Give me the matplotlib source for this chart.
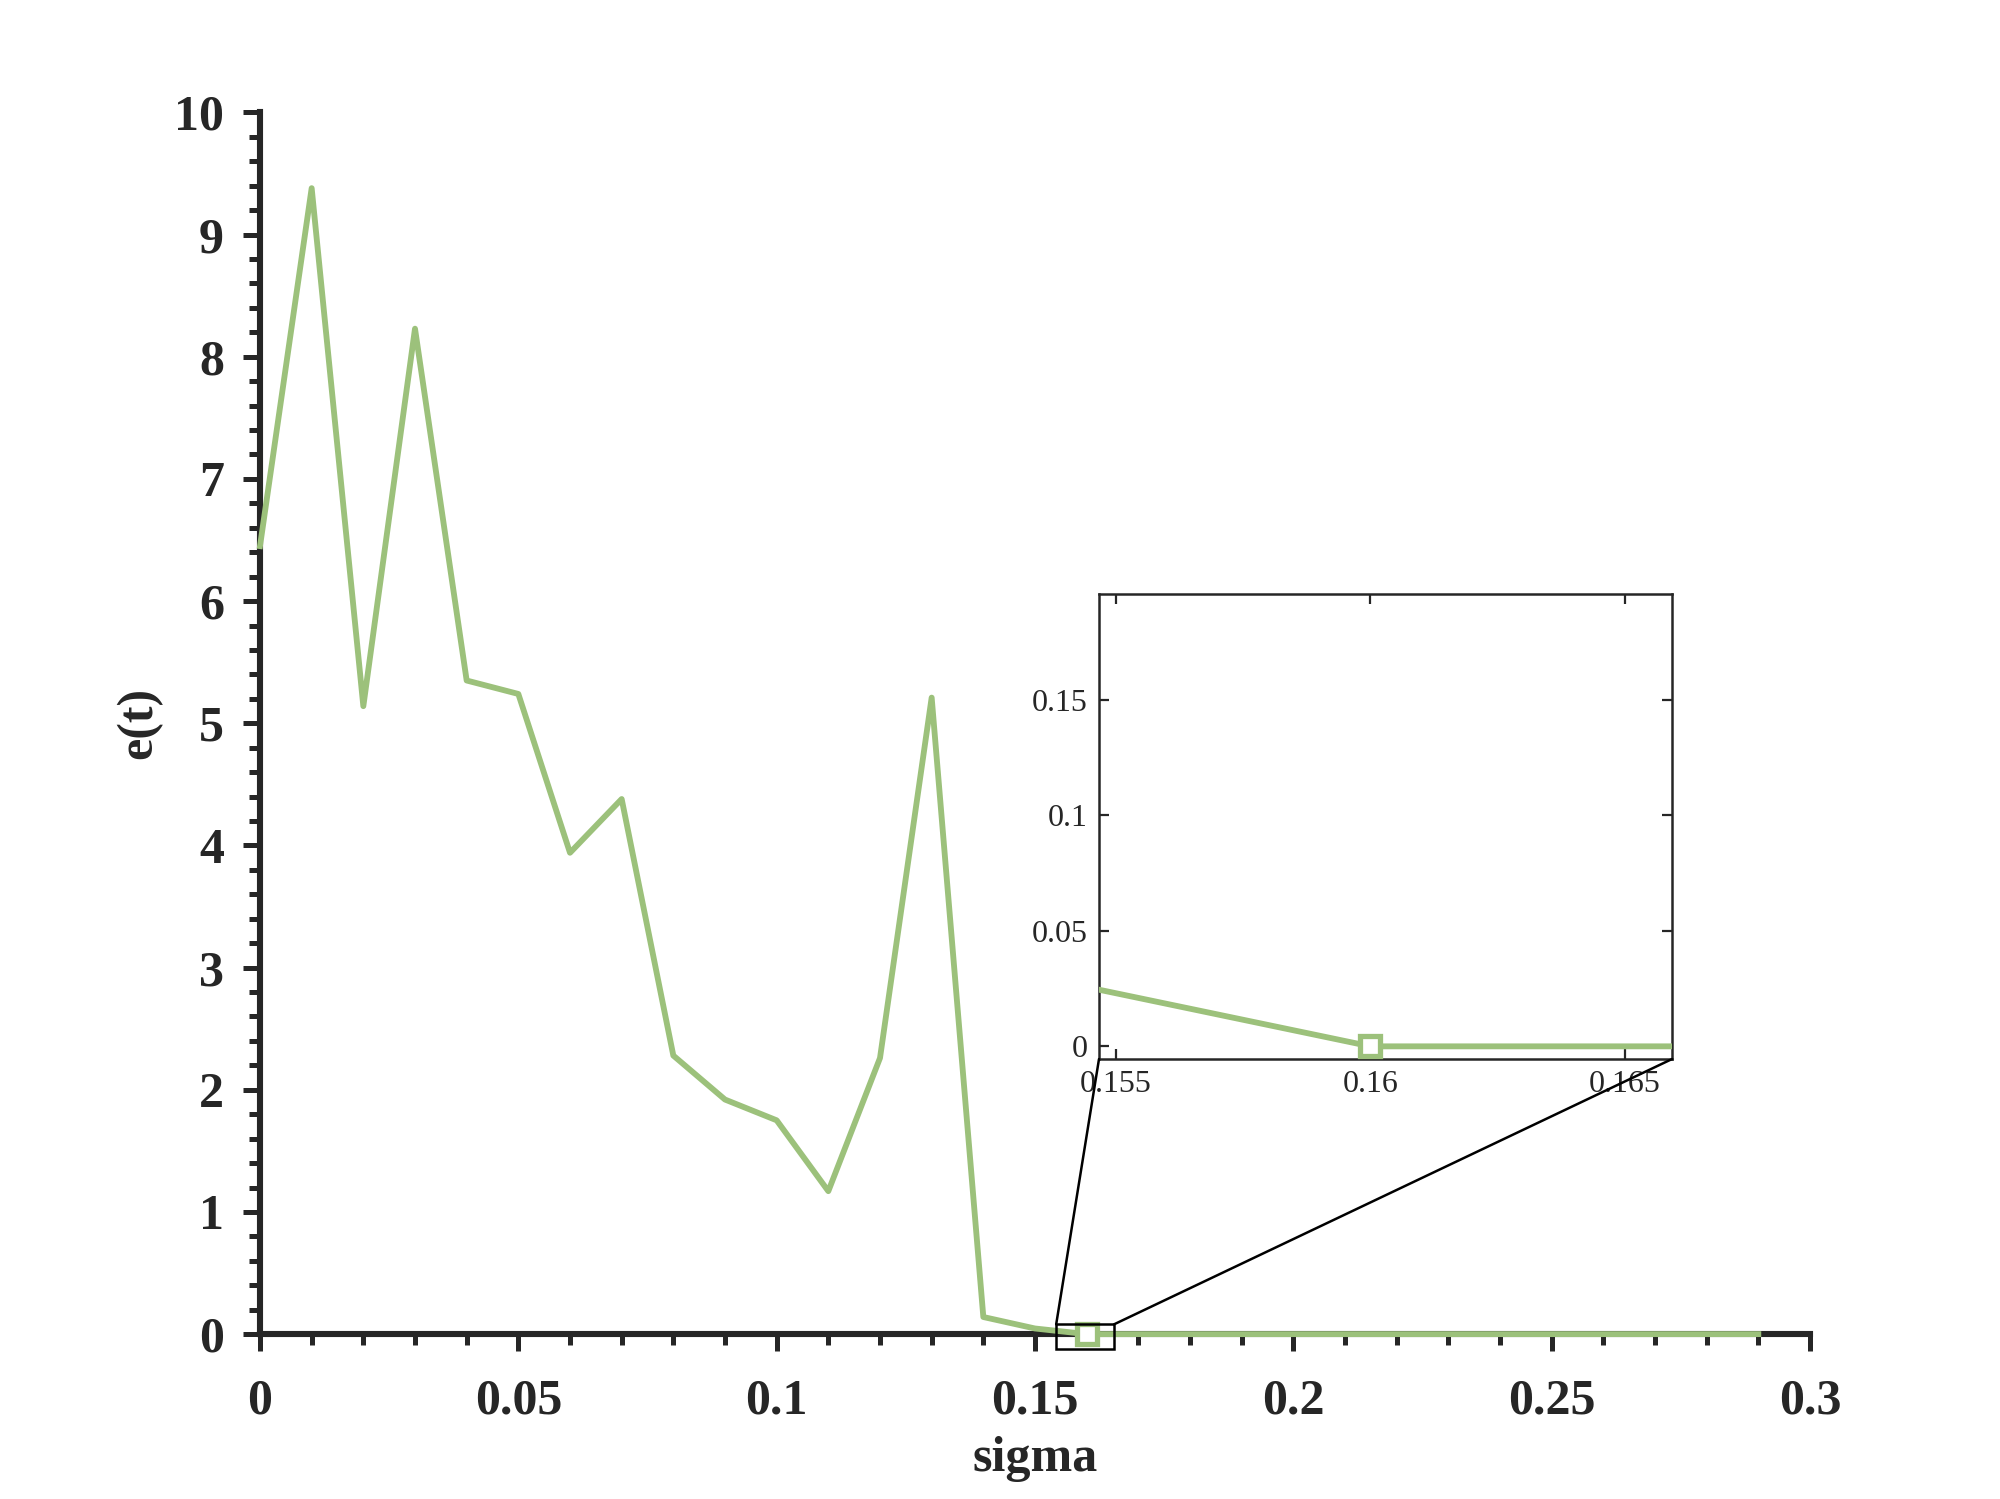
import numpy as np
import matplotlib
matplotlib.use("Agg")
import matplotlib.pyplot as plt
from matplotlib.patches import Rectangle, ConnectionPatch
from matplotlib.ticker import MultipleLocator

# ---- data ----
sigma = [0.00, 0.01, 0.02, 0.03, 0.04, 0.05, 0.06, 0.07, 0.08, 0.09,
         0.10, 0.11, 0.12, 0.13, 0.14, 0.15, 0.16, 0.17, 0.18, 0.19,
         0.20, 0.21, 0.22, 0.23, 0.24, 0.25, 0.26, 0.27, 0.28, 0.29]
et = [6.45, 9.38, 5.14, 8.23, 5.35, 5.24, 3.94, 4.38, 2.28, 1.92,
      1.75, 1.17, 2.26, 5.21, 0.14, 0.046, 0.0, 0.0, 0.0, 0.0,
      0.0, 0.0, 0.0, 0.0, 0.0, 0.0, 0.0, 0.0, 0.0, 0.0]
marker_idx = [16]

x_ticks = [0, 0.05, 0.1, 0.15, 0.2, 0.25, 0.3]
x_tick_labels = ['0', '0.05', '0.1', '0.15', '0.2', '0.25', '0.3']
y_ticks = list(range(0, 11))
y_tick_labels = [str(v) for v in y_ticks]

in_x_ticks = [0.155, 0.16, 0.165]
in_x_labels = ['0.155', '0.16', '0.165']
in_y_ticks = [0, 0.05, 0.1, 0.15]
in_y_labels = ['0', '0.05', '0.1', '0.15']

line_color = '#9CC17B'
axis_color = '#262626'

plt.rcParams['font.family'] = ['Liberation Serif', 'DejaVu Serif']

fig = plt.figure(figsize=(10, 7.495), dpi=200)
ax = fig.add_axes([0.13, 0.11, 0.775, 0.815])

ax.plot(sigma, et, color=line_color, lw=2.1, marker='s', markevery=marker_idx,
        markersize=7.3, markerfacecolor='white', markeredgecolor=line_color,
        markeredgewidth=1.9, zorder=3, clip_on=False)

ax.set_xlim(0, 0.3)
ax.set_ylim(0, 10)
ax.set_xticks(x_ticks)
ax.set_xticklabels(x_tick_labels)
ax.set_yticks(y_ticks)
ax.set_yticklabels(y_tick_labels)
ax.xaxis.set_minor_locator(MultipleLocator(0.01))
ax.yaxis.set_minor_locator(MultipleLocator(0.2))

for s in ['top', 'right']:
    ax.spines[s].set_visible(False)
for s in ['left', 'bottom']:
    ax.spines[s].set_linewidth(2.2)
    ax.spines[s].set_color(axis_color)
    ax.spines[s].set_capstyle('projecting')

ax.tick_params(which='major', direction='out', length=6, width=1.8,
               color=axis_color, labelsize=18, labelcolor=axis_color, pad=7)
ax.tick_params(axis='x', which='major', pad=10)
ax.tick_params(which='minor', direction='out', length=3.8, width=1.8,
               color=axis_color)
for lab in ax.get_xticklabels() + ax.get_yticklabels():
    lab.set_fontweight('bold')

ax.set_xlabel('sigma', fontsize=18, fontweight='bold', color=axis_color, labelpad=4)
ax.set_ylabel('e(t)', fontsize=18, fontweight='bold', color=axis_color, labelpad=4)

# ---- zoom rectangle on main axes ----
rx0, rx1 = 0.1541, 0.1653
ry0, ry1 = -0.12, 0.08
rect = Rectangle((rx0, ry0), rx1 - rx0, ry1 - ry0, fill=False, edgecolor='black',
                 lw=0.9, zorder=4, clip_on=False)
ax.add_patch(rect)

# ---- inset ----
axin = fig.add_axes([0.5495, 0.2935, 0.2865, 0.3105])
axin.plot(sigma, et, color=line_color, lw=2.1, marker='s', markevery=marker_idx,
          markersize=7.3, markerfacecolor='white', markeredgecolor=line_color,
          markeredgewidth=1.9, zorder=3)
axin.set_xlim(0.15467, 0.16592)
axin.set_ylim(-0.0055, 0.196)
axin.set_xticks(in_x_ticks)
axin.set_xticklabels(in_x_labels)
axin.set_yticks(in_y_ticks)
axin.set_yticklabels(in_y_labels)
axin.tick_params(direction='in', top=True, right=True, length=3.5, width=0.8,
                 color='#262626', labelsize=11.5, labelcolor='#262626', pad=4)
for s in axin.spines.values():
    s.set_linewidth(0.9)
    s.set_color('#262626')

# ---- connector lines ----
c1 = ConnectionPatch(xyA=(rx0, ry1), coordsA=ax.transData,
                     xyB=(0, 0), coordsB=axin.transAxes,
                     color='black', lw=0.9, zorder=5)
c2 = ConnectionPatch(xyA=(rx1, ry1), coordsA=ax.transData,
                     xyB=(1, 0), coordsB=axin.transAxes,
                     color='black', lw=0.9, zorder=5)
fig.add_artist(c1)
fig.add_artist(c2)

fig.savefig('out.png', dpi=200, facecolor='white')
